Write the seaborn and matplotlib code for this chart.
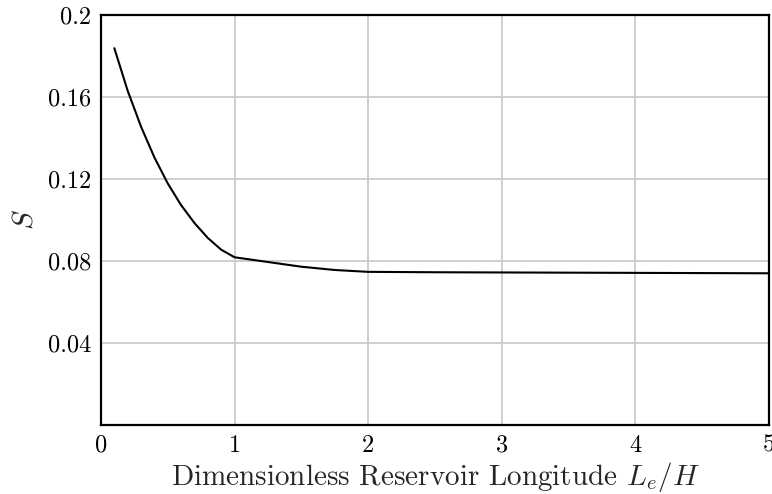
import matplotlib
matplotlib.use("Agg")
import matplotlib.pyplot as plt
import seaborn as sns
import pandas as pd

# Dimensionless reservoir longitude and the corresponding S values
longitude = [0.1, 0.2, 0.3, 0.4, 0.5, 0.6, 0.7, 0.8, 0.9, 1.0,
             1.25, 1.5, 1.75, 2.0, 2.5, 3.0, 3.5, 4.0, 4.5, 5.0]
s_values = [0.1838, 0.1630, 0.1455, 0.1305, 0.1178, 0.1072, 0.0985, 0.0912, 0.0855, 0.0818,
            0.0795, 0.0772, 0.0756, 0.0747, 0.0745, 0.0744, 0.0743, 0.0742, 0.0741, 0.0740]

x_ticks = [0, 1, 2, 3, 4, 5]
x_tick_labels = ["0", "1", "2", "3", "4", "5"]
y_ticks = [0.04, 0.08, 0.12, 0.16, 0.2]
y_tick_labels = ["0.04", "0.08", "0.12", "0.16", "0.2"]

sns.set_style("whitegrid")
plt.rcParams["font.family"] = ["serif"]
plt.rcParams["font.serif"] = ["cmr10", "DejaVu Serif"]
plt.rcParams["mathtext.fontset"] = "cm"
plt.rcParams["axes.formatter.use_mathtext"] = True

df = pd.DataFrame({"L": longitude, "S": s_values})

fig = plt.figure(figsize=(7.72, 4.94), dpi=100)
ax = fig.add_axes([0.1308, 0.1397, 0.8653, 0.8300])

sns.lineplot(data=df, x="L", y="S", ax=ax, color="black", linewidth=1.5,
             estimator=None, sort=True)

ax.set_xlim(0, 5)
ax.set_ylim(0, 0.2)
ax.set_xticks(x_ticks)
ax.set_xticklabels(x_tick_labels)
ax.set_yticks(y_ticks)
ax.set_yticklabels(y_tick_labels)
ax.tick_params(axis="both", length=0, labelsize=17.5, colors="black")
ax.tick_params(axis="x", pad=7)
ax.tick_params(axis="y", pad=7)

ax.grid(True, color="#cccccc", linewidth=1.3)
for spine in ax.spines.values():
    spine.set_visible(True)
    spine.set_color("black")
    spine.set_linewidth(1.6)

ax.set_xlabel(r"Dimensionless Reservoir Longitude $L_e/H$", fontsize=21, labelpad=2)
ax.set_ylabel(r"$S$", fontsize=21, labelpad=7)

fig.savefig("out.png", dpi=100, facecolor="white")
